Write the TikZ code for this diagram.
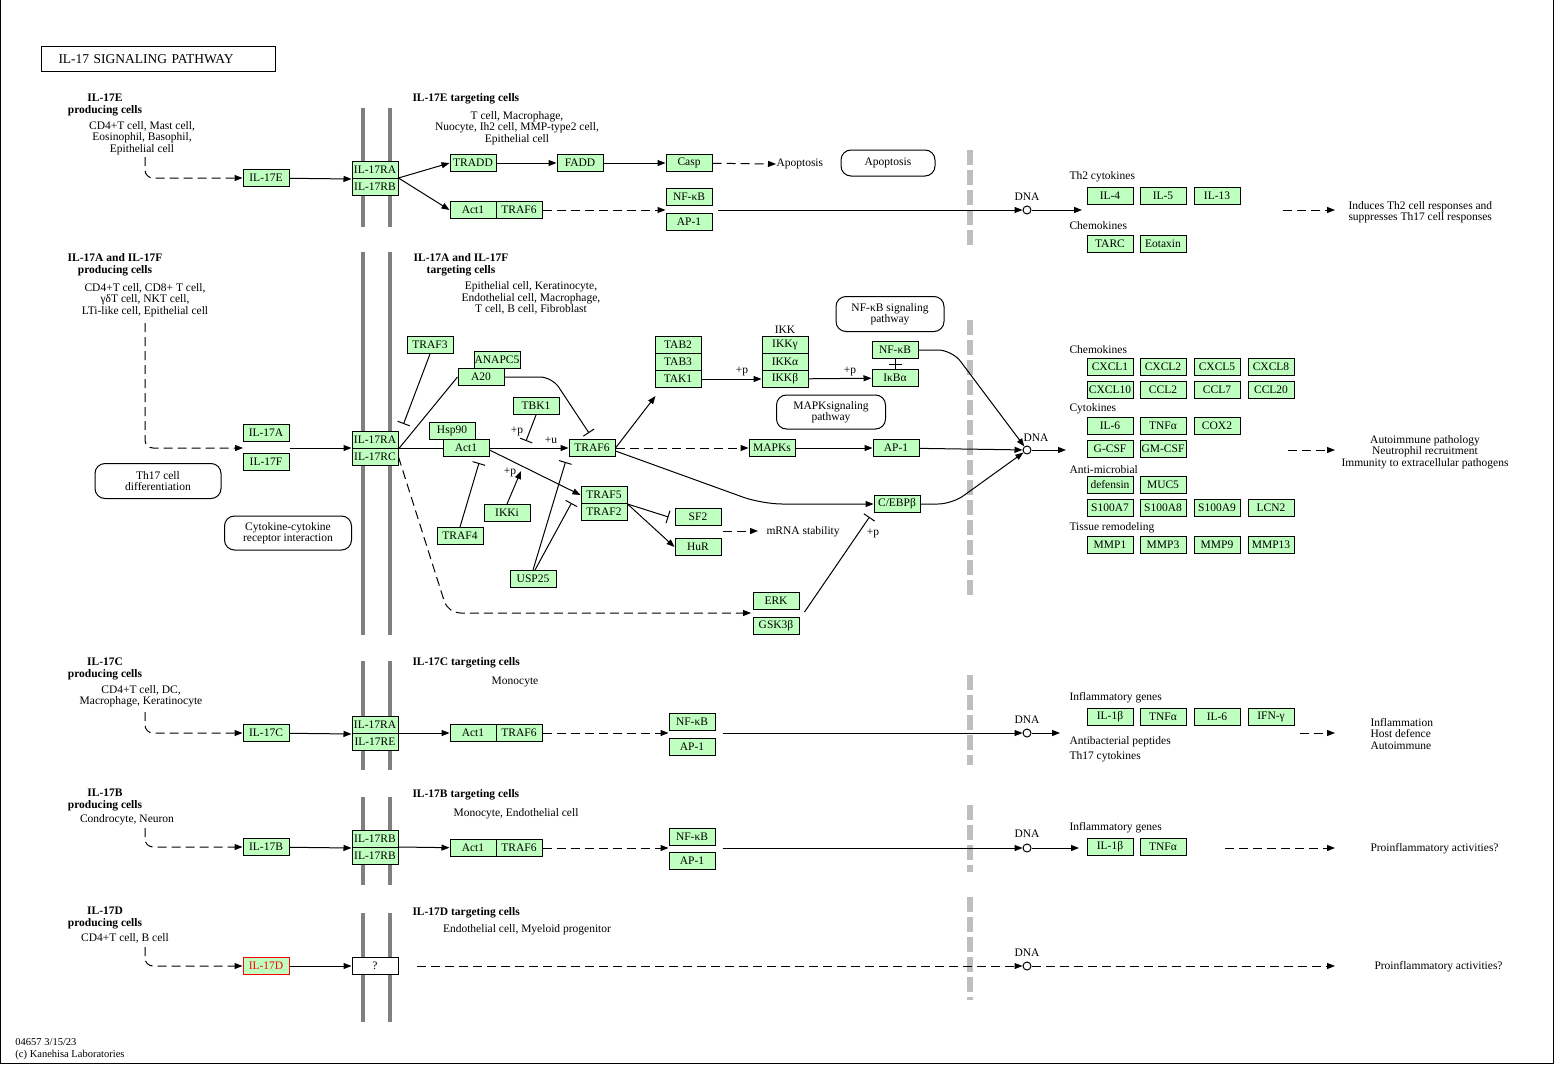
\documentclass[tikz,border=0pt]{standalone}
\usepackage{fontspec}
\setmainfont{Liberation Serif}
\usepackage{tikz}
\usetikzlibrary{arrows.meta}
\usetikzlibrary{positioning}
\usetikzlibrary{calc}
\definecolor{genefill}{HTML}{BFFFBF}
\definecolor{membr}{HTML}{808080}
\definecolor{nuclc}{HTML}{BEBEBE}

\begin{document}
\begin{tikzpicture}[x=1pt,y=-1pt,line width=1pt,
    font=\fontsize{11.5}{11.5}\selectfont,
    gene/.style={draw,fill=genefill,minimum width=46pt,minimum height=17pt,inner sep=0pt},
    pathmap/.style={draw,rounded corners=10pt,align=center,inner sep=0pt},
    lab/.style={align=center,inner sep=0pt,font=\fontsize{11.5}{11.5}\selectfont\bfseries},
    txt/.style={align=center,inner sep=0pt},
    ltxt/.style={anchor=west,align=left,inner sep=0pt},
    dnac/.style={draw,fill=white,circle,minimum size=8pt,inner sep=0pt},
    act/.style={-{Triangle[length=8pt,width=6pt]}},
    inh/.style={-{Bar[width=13pt]}},
    dsh/.style={dash pattern=on 9pt off 5pt},
    membrane/.style={draw=membr,line width=4pt},
    nucl/.style={draw=nuclc,line width=6pt,dash pattern=on 15pt off 5pt}]
    \useasboundingbox (0,0) rectangle (1556,1065);
    \draw (0.5,0) -- (0.5,1063.5) -- (1553.5,1063.5) -- (1553.5,0);

    % membranes and nucleus borders
    \foreach \ya/\yb in {108/227,252/635,661/770,797/885,913/1022} {
        \draw[membrane] (363,\ya) -- (363,\yb);
        \draw[membrane] (390,\ya) -- (390,\yb);
    }
    \foreach \ya/\yb in {150/245,320/595,675/765,805/872,897/1000}
        \draw[nucl] (970,\ya) -- (970,\yb);

    \node[draw,anchor=north west,minimum width=234pt,minimum height=25pt,text width=200pt,
        inner xsep=17pt,inner ysep=0pt,align=left,font=\fontsize{13.5}{13.5}\selectfont] (title) at (41,46) {IL-17 SIGNALING PATHWAY};

    % headings
    \node[lab] (pe) at (105,105) {IL-17E\\producing cells};
    \node[txt] (pec) at (142,138) {CD4+T cell, Mast cell,\\Eosinophil, Basophil,\\Epithelial cell};
    \node[lab,anchor=west] (te) at (412,99) {IL-17E targeting cells};
    \node[txt] (tec) at (517,128) {T cell, Macrophage,\\Nuocyte, Ih2 cell, MMP-type2 cell,\\Epithelial cell};
    \node[lab] (pa) at (115,265) {IL-17A and IL-17F\\producing cells};
    \node[txt] (pac) at (145,300) {CD4+T cell, CD8+ T cell,\\γδT cell, NKT cell,\\LTi-like cell, Epithelial cell};
    \node[lab] (ta) at (461,265) {IL-17A and IL-17F\\targeting cells};
    \node[txt] (tac) at (531,298) {Epithelial cell, Keratinocyte,\\Endothelial cell, Macrophage,\\T cell, B cell, Fibroblast};
    \node[lab] (pc) at (105,669) {IL-17C\\producing cells};
    \node[txt] (pcc) at (141,696) {CD4+T cell, DC,\\Macrophage, Keratinocyte};
    \node[lab,anchor=west] (tc) at (412,663) {IL-17C targeting cells};
    \node[txt] (tcc) at (515,682) {Monocyte};
    \node[lab] (pb) at (105,800) {IL-17B\\producing cells};
    \node[txt] (pbc) at (127,820) {Condrocyte, Neuron};
    \node[lab,anchor=west] (tb) at (412,795) {IL-17B targeting cells};
    \node[txt] (tbc) at (516,814) {Monocyte, Endothelial cell};
    \node[lab] (pd) at (105,918) {IL-17D\\producing cells};
    \node[txt] (pdc) at (125,938) {CD4+T cell, B cell};
    \node[lab,anchor=west] (td) at (412,913) {IL-17D targeting cells};
    \node[txt] (tdc) at (527,930) {Endothelial cell, Myeloid progenitor};

    % pathway maps
    \node[pathmap,minimum width=94pt,minimum height=26pt] (apobox) at (888,163) {Apoptosis};
    \node[pathmap,minimum width=126pt,minimum height=35pt] (th17) at (158,481) {Th17 cell\\differentiation};
    \node[pathmap,minimum width=127pt,minimum height=34pt] (cyto) at (288,533) {Cytokine-cytokine\\receptor interaction};
    \node[pathmap,minimum width=108pt,minimum height=35pt] (nfpath) at (890,314) {NF-κB signaling\\pathway};
    \node[pathmap,minimum width=109pt,minimum height=34pt] (mappath) at (831,412) {MAPKsignaling\\pathway};

    % IL-17E
    \node[gene] (e) at (266,178) {IL-17E};
    \node[gene] (ra1) at (375,170) {IL-17RA};
    \node[gene] (rb1) at (375,187) {IL-17RB};
    \node[gene] (tradd) at (473,163) {TRADD};
    \node[gene] (fadd) at (580,163) {FADD};
    \node[gene] (casp) at (689,163) {Casp};
    \node[txt,anchor=west] (apo) at (776,164) {Apoptosis};
    \node[gene] (act1a) at (473,210) {Act1};
    \node[gene] (traf6a) at (519,210) {TRAF6};
    \node[gene] (nfkb1) at (689,197) {NF-κB};
    \node[gene] (ap1a) at (689,222) {AP-1};
    \node[dnac] (dna1) at (1027,210) {};
    \node[txt] (dna1l) at (1027,197) {DNA};
    \coordinate (d1o) at (1082,210);
    \node[ltxt] (th2) at (1069,177) {Th2 cytokines};
    \node[ltxt] (chem1) at (1069,226) {Chemokines};
    \foreach \t/\x/\y/\m in {IL-4/1110/196/il4,IL-5/1163/196/il5,IL-13/1217/196/il13,TARC/1110/244/tarc,Eotaxin/1163/244/eotaxin}
        \node[gene] (\m) at (\x,\y) {\t};
    \coordinate (o1s) at (1283,210);
    \coordinate (o1e) at (1335,210);
    \node[ltxt] (out1) at (1348,212) {Induces Th2 cell responses and\\suppresses Th17 cell responses};

    \coordinate (pe-s) at (145,157);
    \draw[dsh,act,rounded corners=8pt] (pe-s) |- (e);
    \draw[act] (e) -- (ra1.south west);
    \draw[act] (rb1.north east) -- (tradd.west);
    \draw[act] (rb1.north east) -- (act1a.west);
    \draw[act] (tradd) -- (fadd);
    \draw[act] (fadd) -- (casp);
    \draw[dsh,act] (casp) -- (apo.west);
    \draw[dsh,act] (traf6a) -- (traf6a -| nfkb1.west);
    \draw[act] ($(ap1a.east |- dna1)+(5,0)$) -- (dna1);
    \draw[act] (dna1) -- (d1o);
    \draw[dsh,act] (o1s) -- (o1e);

    % IL-17A and IL-17F
    \node[gene] (il17a) at (266,433) {IL-17A};
    \node[gene] (il17f) at (266,462) {IL-17F};
    \node[gene] (ra2) at (375,440) {IL-17RA};
    \node[gene] (rc2) at (375,457) {IL-17RC};
    \node[gene] (traf3) at (430,345) {TRAF3};
    \node[gene] (anapc5) at (497,360) {ANAPC5};
    \node[gene] (a20) at (481,377) {A20};
    \node[gene] (tbk1) at (536,406) {TBK1};
    \node[gene] (hsp90) at (452,431) {Hsp90};
    \node[gene] (act1b) at (466,448) {Act1};
    \node[gene] (traf6b) at (592,448) {TRAF6};
    \node[gene] (tab2) at (678,345) {TAB2};
    \node[gene] (tab3) at (678,362) {TAB3};
    \node[gene] (tak1) at (678,379) {TAK1};
    \node[txt] (ikk) at (785,330) {IKK};
    \node[gene] (ikkg) at (785,345) {IKKγ};
    \node[gene] (ikka) at (785,362) {IKKα};
    \node[gene] (ikkb) at (785,379) {IKKβ};
    \node[gene] (nfkb2) at (895,350) {NF-κB};
    \node[gene] (ikba) at (895,378) {IκBα};
    \node[gene] (mapks) at (772,448) {MAPKs};
    \node[gene] (ap1b) at (896,448) {AP-1};
    \node[gene] (traf5) at (604,495) {TRAF5};
    \node[gene] (traf2) at (604,512) {TRAF2};
    \node[gene] (sf2) at (698,517) {SF2};
    \node[gene] (hur) at (698,547) {HuR};
    \node[gene] (ikki) at (507,513) {IKKi};
    \node[gene] (traf4) at (460,536) {TRAF4};
    \node[gene] (usp25) at (533,579) {USP25};
    \node[gene] (cebpb) at (897,504) {C/EBPβ};
    \node[gene] (erk) at (776,601) {ERK};
    \node[gene] (gsk) at (776,626) {GSK3β};
    \node[dnac] (dna2) at (1027,450) {};
    \node[txt] (dna2l) at (1036,438) {DNA};
    \node[txt,anchor=west] (mrna) at (766,532) {mRNA stability};
    \node[txt] (p1) at (517,431) {+p};
    \node[txt] (u1) at (551,440) {+u};
    \node[txt] (p2) at (510,472) {+p};
    \node[txt] (p3) at (742,371) {+p};
    \node[txt] (p4) at (850,371) {+p};
    \node[txt] (p5) at (873,533) {+p};
    \coordinate (pa-s) at (145,323);
    \coordinate (af) at (243,448);
    \coordinate (tbk1e) at (526,441);
    \coordinate (ikkie) at (521,471);
    \coordinate (erkin) at (751,613);
    \coordinate (mr-s) at (723,531);
    \coordinate (d2o) at (1066,450);

    \draw[dsh,act,rounded corners=8pt] (pa-s) |- (af);
    \draw[act] (il17a.east |- af) -- (af -| ra2.west);
    \draw (rc2.north east) -- (act1b.west);
    \draw[inh] (traf3.south) -- ([shift={(5,-7)}]ra2.north east);
    \draw (ra2.south east) -- (a20.west);
    \draw[inh,rounded corners=12pt] (a20.east) -- (552,377) -- ([shift={(-3,-6)}]traf6b.north);
    \draw[inh] (tbk1.south) -- (tbk1e);
    \draw[act] (act1b) -- (traf6b);
    \draw[inh] (traf4.north) -- ([shift={(13,6)}]act1b.south);
    \draw[act] (ikki.north) -- (ikkie);
    \draw[act] ([shift={(0,2)}]act1b.east) -- (traf5.west);
    \draw[inh] (usp25.north) -- ([shift={(-3,5)}]traf6b.south west);
    \draw[inh] ([shift={(2,0)}]usp25.north) -- ([shift={(-9,-1)}]traf5.south west);
    \draw[act] (traf6b.east) -- ([shift={(1,8)}]tak1.south west);
    \draw[act] (tak1) -- (ikkb);
    \draw[act] (ikkb) -- (ikba);
    \draw[inh] (ikba.north) -- ([shift={(0,5)}]nfkb2.south);
    \draw ([shift={(0,5)}]nfkb2.south) -- (nfkb2.south);
    \draw[dsh,act] (traf6b) -- (mapks);
    \draw[act] (mapks) -- (ap1b);
    \draw[act,rounded corners=20pt] ([shift={(0,3)}]traf6b.east) -- (762,504) -- (cebpb);
    \draw[act,rounded corners=14pt] (nfkb2.east) -- (952,350) -- (dna2);
    \draw[act] (ap1b) -- (dna2);
    \draw[act,rounded corners=14pt] (cebpb.east) -- (952,504) -- (dna2);
    \draw[act] (dna2) -- (d2o);
    \draw[inh] (traf5.south east) -- ([shift={(-6,0)}]sf2.west);
    \draw[act] (traf5.south east) -- (hur.west);
    \draw[dsh,act] (mr-s) -- ([shift={(-8,-1)}]mrna.west);
    \draw[dsh,act,rounded corners=12pt] (rc2.east) -- (448,613) -- (erkin);
    \draw[inh] ([shift={(5,-14)}]gsk.east) -- ([shift={(-4,4)}]cebpb.south west);

    \node[ltxt] (chem2) at (1069,350) {Chemokines};
    \node[ltxt] (cyt2) at (1069,409) {Cytokines};
    \node[ltxt] (amic) at (1069,470) {Anti-microbial};
    \node[ltxt] (tisr) at (1069,528) {Tissue remodeling};
    \foreach \t/\x/\y/\m in {CXCL1/1110/367/cxcl1,CXCL2/1163/367/cxcl2,CXCL5/1217/367/cxcl5,CXCL8/1271/367/cxcl8,
        CXCL10/1110/390/cxcl10,CCL2/1163/390/ccl2,CCL7/1217/390/ccl7,CCL20/1271/390/ccl20,
        IL-6/1110/426/il6b,TNFα/1163/426/tnfb,COX2/1217/426/cox2,
        G-CSF/1110/449/gcsf,GM-CSF/1163/449/gmcsf,
        defensin/1110/485/defensin,MUC5/1163/485/muc5,
        S100A7/1110/508/s100a7,S100A8/1163/508/s100a8,S100A9/1217/508/s100a9,LCN2/1271/508/lcn2,
        MMP1/1110/545/mmp1,MMP3/1163/545/mmp3,MMP9/1217/545/mmp9,MMP13/1271/545/mmp13}
        \node[gene] (\m) at (\x,\y) {\t};
    \coordinate (o2s) at (1288,450);
    \coordinate (o2e) at (1335,450);
    \draw[dsh,act] (o2s) -- (o2e);
    \node[txt] (out2) at (1425,452) {Autoimmune pathology\\Neutrophil recruitment\\Immunity to extracellular pathogens};

    % IL-17C
    \node[gene] (il17c) at (266,733) {IL-17C};
    \node[gene] (ra3) at (375,725) {IL-17RA};
    \node[gene] (re3) at (375,742) {IL-17RE};
    \node[gene] (act1c) at (473,733) {Act1};
    \node[gene] (traf6c) at (519,733) {TRAF6};
    \node[gene] (nfkb3) at (692,722) {NF-κB};
    \node[gene] (ap1c) at (692,747) {AP-1};
    \node[dnac] (dna3) at (1027,733) {};
    \node[txt] (dna3l) at (1027,720) {DNA};
    \node[ltxt] (infl3) at (1069,698) {Inflammatory genes};
    \foreach \t/\x/\y/\m in {IL-1β/1110/717/il1b,TNFα/1163/717/tnfc,IL-6/1217/717/il6c,IFN-γ/1271/717/ifng}
        \node[gene] (\m) at (\x,\y) {\t};
    \node[ltxt] (abp) at (1069,742) {Antibacterial peptides};
    \node[ltxt] (th17c) at (1069,757) {Th17 cytokines};
    \node[ltxt] (out3) at (1370,734) {Inflammation\\Host defence\\Autoimmune};
    \coordinate (pc-s) at (145,712);
    \coordinate (d3o) at (1060,733);
    \coordinate (o3s) at (1300,733);
    \coordinate (o3e) at (1335,733);
    \draw[dsh,act,rounded corners=8pt] (pc-s) |- (il17c);
    \draw[act] (il17c) -- (ra3.south west);
    \draw[act] (re3.north east) -- (act1c);
    \draw[dsh,act] (traf6c) -- (traf6c -| nfkb3.west);
    \draw[act] ($(ap1c.east |- dna3)+(7,0)$) -- (dna3);
    \draw[act] (dna3) -- (d3o);
    \draw[dsh,act] (o3s) -- (o3e);

    % IL-17B
    \node[gene] (il17b) at (266,847) {IL-17B};
    \node[gene] (rb4a) at (375,839) {IL-17RB};
    \node[gene] (rb4b) at (375,856) {IL-17RB};
    \node[gene] (act1d) at (473,848) {Act1};
    \node[gene] (traf6d) at (519,848) {TRAF6};
    \node[gene] (nfkb4) at (692,837) {NF-κB};
    \node[gene] (ap1d) at (692,861) {AP-1};
    \node[dnac] (dna4) at (1027,848) {};
    \node[txt] (dna4l) at (1027,834) {DNA};
    \node[ltxt] (infl4) at (1069,828) {Inflammatory genes};
    \foreach \t/\x/\y/\m in {IL-1β/1110/847/il1bd,TNFα/1163/847/tnfd}
        \node[gene] (\m) at (\x,\y) {\t};
    \node[ltxt] (out4) at (1370,849) {Proinflammatory activities?};
    \coordinate (pb-s) at (145,828);
    \coordinate (d4o) at (1079,848);
    \coordinate (o4s) at (1225,848);
    \coordinate (o4e) at (1335,848);
    \draw[dsh,act,rounded corners=8pt] (pb-s) |- (il17b);
    \draw[act] (il17b) -- (rb4a.south west);
    \draw[act] (rb4b.north east) -- (act1d);
    \draw[dsh,act] (traf6d) -- (traf6d -| nfkb4.west);
    \draw[act] ($(ap1d.east |- dna4)+(7,0)$) -- (dna4);
    \draw[act] (dna4) -- (d4o);
    \draw[dsh,act] (o4s) -- (o4e);

    % IL-17D
    \node[gene,draw=red,text=red] (il17d) at (266,966) {IL-17D};
    \node[gene,fill=white] (q) at (375,966) {?};
    \node[dnac] (dna5) at (1027,966) {};
    \node[txt] (dna5l) at (1027,953) {DNA};
    \node[ltxt] (out5) at (1374,967) {Proinflammatory activities?};
    \coordinate (pd-s) at (145,947);
    \coordinate (q-o) at (417,966);
    \coordinate (o5e) at (1335,966);
    \draw[dsh,act,rounded corners=8pt] (pd-s) |- (il17d);
    \draw[act] (il17d) -- (q);
    \draw[dsh,act] (q-o) -- (dna5);
    \draw[dsh,act] (dna5) -- (o5e);

    \node[ltxt,font=\fontsize{10.5}{12}\selectfont] (foot) at (15,1049) {04657 3/15/23\\(c) Kanehisa Laboratories};
\end{tikzpicture}
\end{document}
